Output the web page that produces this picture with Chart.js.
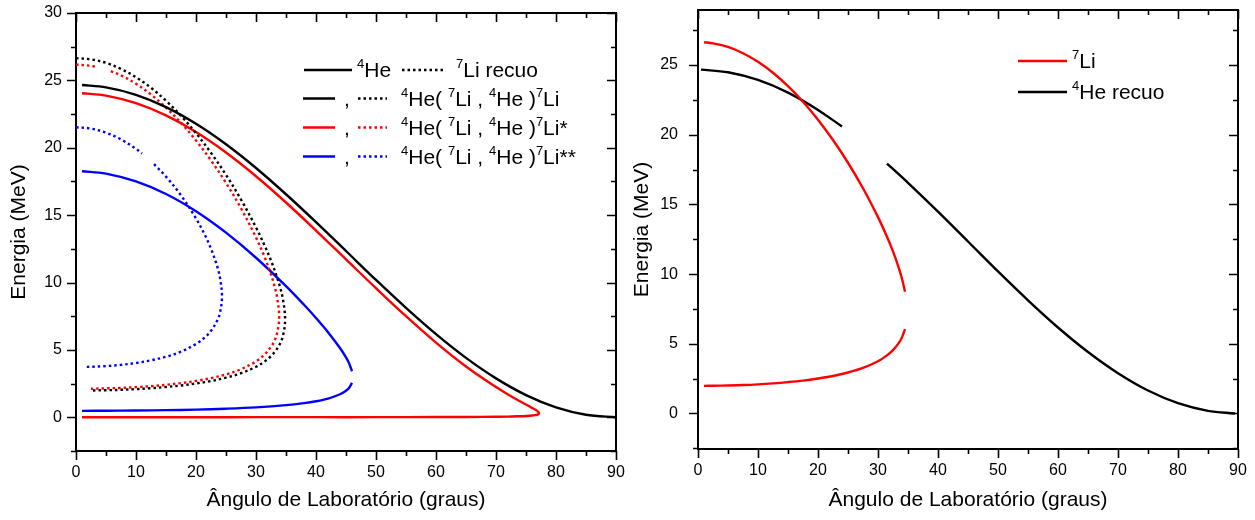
<!DOCTYPE html>
<html>
<head>
<meta charset="utf-8">
<script src="https://cdn.jsdelivr.net/npm/chart.js@4.4.1/dist/chart.umd.min.js"></script>
<style>
  body { margin: 0; background: #fff; }
  #quadro { position: relative; width: 1255px; height: 520px; }
  canvas { position: absolute; top: 0; }
</style>
</head>
<body>
<div id="quadro">
  <canvas id="esquerda" width="630" height="520" style="left:0px"></canvas>
  <canvas id="direita" width="625" height="520" style="left:630px"></canvas>
</div>
<script>
// eixos
const xMaiores = [0, 10, 20, 30, 40, 50, 60, 70, 80, 90];
const xMenores = [5, 15, 25, 35, 45, 55, 65, 75, 85];
const yMaiores = [0, 5, 10, 15, 20, 25, 30];
const yMenores = [-2.5, 2.5, 7.5, 12.5, 17.5, 22.5, 27.5];

// grafico da esquerda
// 4He espalhamento elastico (linha cheia preta)
const heAng = [1, 5, 10, 15, 20, 25, 30, 35, 40, 45, 50, 55, 60, 65, 70, 75, 80, 85, 90];
const heE = [24.66, 24.48, 23.93, 23.02, 21.78, 20.26, 18.50, 16.55, 14.48, 12.34, 10.19, 8.12, 6.17, 4.41, 2.89, 1.65, 0.74, 0.19, 0.00];
// 7Li recuo elastico (pontilhado preto)
const liAng = [0, 2.5, 5, 7.5, 10, 12.5, 15, 17.5, 20, 22.5, 25, 27.5, 30, 31.5, 32.5, 33.5, 34, 34.5, 34.85, 34.5, 34, 33.5, 32.5, 31.5, 30, 27.5, 25, 22.5, 20, 17.5, 15, 12.5, 10, 7.5, 5, 2.5];
const liE = [26.65, 26.56, 26.30, 25.85, 25.24, 24.45, 23.49, 22.37, 21.08, 19.62, 17.99, 16.16, 14.09, 12.68, 11.63, 10.40, 9.67, 8.74, 7.27, 6.05, 5.46, 5.08, 4.54, 4.17, 3.75, 3.27, 2.94, 2.69, 2.51, 2.36, 2.25, 2.16, 2.09, 2.04, 2.01, 1.99];
// 4He com 7Li* (linha cheia vermelha)
const heExcAng = [1, 5, 10, 15, 20, 25, 30, 35, 40, 45, 50, 55, 60, 65, 70, 72, 74, 75, 76, 76.5, 77, 77.17, 77, 76.5, 76, 75, 74, 72, 70, 65, 60, 50, 40, 30, 20, 10, 1];
const heExcE = [24.05, 23.87, 23.31, 22.40, 21.17, 19.65, 17.89, 15.94, 13.86, 11.72, 9.58, 7.50, 5.54, 3.77, 2.24, 1.69, 1.19, 0.95, 0.70, 0.58, 0.42, 0.30, 0.22, 0.16, 0.13, 0.10, 0.08, 0.05, 0.04, 0.02, 0.02, 0.01, 0.01, 0.01, 0.00, 0.00, 0.00];
// 7Li* (pontilhado vermelho)
const liExcAng = [0, 2.5, 3.4, 4.5, 5.8, 7.5, 10, 12.5, 15, 17.5, 20, 22.5, 25, 27.5, 30, 31.5, 32.5, 33, 33.5, 33.86, 33.5, 33, 32.5, 31.5, 30, 27.5, 25, 22.5, 20, 17.5, 15, 12.5, 10, 7.5, 5, 2.5];
const liExcE = [26.17, 26.08, 26.00, null, 25.69, 25.37, 24.75, 23.95, 22.98, 21.85, 20.54, 19.06, 17.39, 15.51, 13.34, 11.81, 10.60, 9.87, 8.94, 7.44, 6.20, 5.61, 5.23, 4.69, 4.15, 3.57, 3.18, 2.91, 2.70, 2.54, 2.41, 2.31, 2.24, 2.18, 2.15, 2.12];
// 4He com 7Li** (linha cheia azul)
const heExc2Ang = [1, 5, 10, 15, 20, 25, 30, 35, 38, 40, 42, 44, 45, 45.5, 46, 46, 46, 45.5, 45, 44, 42, 40, 38, 35, 30, 25, 20, 15, 10, 5, 1];
const heExc2E = [18.26, 18.08, 17.50, 16.57, 15.29, 13.70, 11.84, 9.73, 8.35, 7.37, 6.32, 5.14, 4.44, 4.02, 3.42, null, 2.56, 2.18, 1.97, 1.71, 1.39, 1.19, 1.05, 0.90, 0.74, 0.64, 0.57, 0.53, 0.50, 0.49, 0.48];
// 7Li** (pontilhado azul)
const liExc2Ang = [0, 2.5, 5, 7.5, 10, 11, 12, 13, 15, 17.5, 20, 21.5, 22.5, 23.5, 24, 24.33, 24, 23.5, 22.5, 21.5, 20, 17.5, 15, 12.5, 10, 7.5, 5, 2.5, 1.5];
const liExc2E = [21.52, 21.42, 21.12, 20.62, 19.92, 19.58, null, 18.79, 17.86, 16.47, 14.76, 13.51, 12.51, 11.25, 10.35, 8.96, 7.75, 7.14, 6.42, 5.94, 5.44, 4.87, 4.49, 4.23, 4.03, 3.89, 3.80, 3.75, 3.74];

// grafico da direita
const li7Ang = [1, 2.5, 5, 7.5, 10, 12.5, 15, 17.5, 20, 22.5, 25, 27.5, 30, 31.5, 32.5, 33.5, 34, 34.5, 34.5, 34.5, 34, 33.5, 32.5, 31.5, 30, 27.5, 25, 22.5, 20, 17.5, 15, 12.5, 10, 7.5, 5, 2.5, 1];
const li7E = [26.64, 26.56, 26.30, 25.85, 25.24, 24.45, 23.49, 22.37, 21.08, 19.62, 17.99, 16.16, 14.09, 12.68, 11.63, 10.40, 9.67, 8.74, null, 6.05, 5.46, 5.08, 4.54, 4.17, 3.75, 3.27, 2.94, 2.69, 2.51, 2.36, 2.25, 2.16, 2.09, 2.04, 2.01, 1.99, 1.98];
const heRecAng = [0.5, 5, 10, 15, 20, 24, 28, 31.5, 35, 40, 45, 50, 55, 60, 65, 70, 75, 80, 85, 89.5];
const heRecE = [24.67, 24.48, 23.93, 23.02, 21.78, 20.59, null, 17.93, 16.55, 14.48, 12.34, 10.19, 8.12, 6.17, 4.41, 2.89, 1.65, 0.74, 0.19, 0.00];

const FONTE = '"Liberation Sans", Arial, sans-serif';
Chart.defaults.font.family = FONTE;
Chart.defaults.color = '#000';

const pontos = (a, e) => a.map((v, i) => ({ x: v, y: e[i] }));

function serie(a, e, cor, pontilhado, suave) {
  return {
    data: pontos(a, e),
    borderColor: cor,
    borderWidth: 2.4,
    borderDash: pontilhado ? [2.5, 3] : [],
    pointRadius: 0,
    fill: false,
    tension: 0.35,
    cubicInterpolationMode: suave ? 'monotone' : 'default'
  };
}

// marcas dos eixos: fora em baixo/esquerda, dentro em cima/direita
const marcas = {
  id: 'marcas',
  afterDraw(chart) {
    const { ctx, chartArea: a, scales } = chart;
    ctx.save();
    ctx.strokeStyle = '#000';
    ctx.lineWidth = 1.6;
    ctx.setLineDash([]);
    ctx.beginPath();
    const vx = (lista, tam) => lista.forEach(v => {
      const p = Math.round(scales.x.getPixelForValue(v)) + 0.5;
      ctx.moveTo(p, a.bottom); ctx.lineTo(p, a.bottom + tam);
      ctx.moveTo(p, a.top); ctx.lineTo(p, a.top + tam);
    });
    const vy = (lista, tam) => lista.forEach(v => {
      if (v < scales.y.min || v > scales.y.max) return;
      const p = Math.round(scales.y.getPixelForValue(v)) + 0.5;
      ctx.moveTo(a.left, p); ctx.lineTo(a.left - tam, p);
      ctx.moveTo(a.right, p); ctx.lineTo(a.right - tam, p);
    });
    vx(xMaiores, 9); vx(xMenores, 5);
    vy(yMaiores, 9); vy(yMenores, 5);
    ctx.stroke();
    ctx.restore();
  }
};

function escreve(ctx, partes, x, y, tam) {
  partes.forEach(p => {
    const sup = p[0] === '^';
    const t = sup ? p.slice(1) : p;
    ctx.font = (sup ? Math.round(tam * 0.6) : tam) + 'px ' + FONTE;
    ctx.fillText(t, x, sup ? y - tam * 0.42 : y);
    x += ctx.measureText(t).width;
  });
}

function traco(ctx, x1, x2, y, cor, pontilhado) {
  ctx.beginPath();
  ctx.strokeStyle = cor;
  ctx.lineWidth = 2.5;
  ctx.setLineDash(pontilhado ? [2.5, 3] : []);
  ctx.moveTo(x1, y);
  ctx.lineTo(x2, y);
  ctx.stroke();
}

// tamanho fixo de cada eixo, sem folga extra dos rotulos
function fixa(prop, valor) {
  return s => {
    s[prop] = valor;
    s.paddingLeft = 0; s.paddingRight = 0; s.paddingTop = 0; s.paddingBottom = 0;
  };
}

function eixos(yMin, yMax, larg) {
  const borda = { display: true, color: '#000', width: 2 };
  return {
    x: {
      type: 'linear', position: 'bottom', min: 0, max: 90,
      afterBuildTicks: s => { s.ticks = xMaiores.map(v => ({ value: v })); },
      afterFit: fixa('height', larg.baixo),
      grid: { display: false, drawTicks: false },
      border: borda,
      ticks: { font: { size: 16 }, padding: 12, maxRotation: 0 },
      title: { display: true, text: 'Ângulo de Laboratório (graus)', font: { size: 21 }, padding: { top: 0, bottom: 7 } }
    },
    x2: {
      type: 'linear', position: 'top', min: 0, max: 90,
      afterFit: fixa('height', larg.topo),
      grid: { display: false, drawTicks: false },
      border: borda,
      ticks: { display: false }
    },
    y: {
      type: 'linear', position: 'left', min: yMin, max: yMax,
      afterBuildTicks: s => { s.ticks = yMaiores.filter(v => v <= yMax).map(v => ({ value: v })); },
      afterFit: fixa('width', larg.esq),
      grid: { display: false, drawTicks: false },
      border: borda,
      ticks: { font: { size: 16 }, padding: larg.pad },
      title: { display: true, text: 'Energia (MeV)', font: { size: 21 }, padding: { top: larg.tit, bottom: 0 } }
    },
    y2: {
      type: 'linear', position: 'right', min: yMin, max: yMax,
      afterFit: fixa('width', larg.dir),
      grid: { display: false, drawTicks: false },
      border: borda,
      ticks: { display: false }
    }
  };
}

function grafico(id, series, escalas, legenda) {
  return new Chart(document.getElementById(id), {
    type: 'line',
    data: { datasets: series },
    options: {
      responsive: false,
      animation: false,
      devicePixelRatio: 1,
      layout: { padding: 0 },
      plugins: { legend: { display: false }, tooltip: { enabled: false } },
      scales: escalas
    },
    plugins: [marcas, { id: 'legenda', afterDraw: c => legenda(c.ctx) }]
  });
}

grafico('esquerda', [
  serie(heAng, heE, '#000', false, true),
  serie(liAng, liE, '#000', true, false),
  serie(heExcAng, heExcE, '#ff0000', false, false),
  serie(liExcAng, liExcE, '#ff0000', true, false),
  serie(heExc2Ang, heExc2E, '#0000ff', false, false),
  serie(liExc2Ang, liExc2E, '#0000ff', true, false)
], eixos(-2.5, 30, { baixo: 69, topo: 13, esq: 76, dir: 14, pad: 14, tit: 7 }), ctx => {
  ctx.save();
  ctx.fillStyle = '#000';
  ctx.textBaseline = 'alphabetic';
  traco(ctx, 304, 352, 70, '#000', false);
  escreve(ctx, ['^4', 'He'], 357, 77, 21);
  traco(ctx, 402, 444, 70, '#000', true);
  escreve(ctx, ['^7', 'Li recuo'], 456, 77, 21);
  const linhas = [['#000', ''], ['#ff0000', '*'], ['#0000ff', '**']];
  linhas.forEach((l, i) => {
    const y = 98.5 + i * 29;
    traco(ctx, 303, 335, y, l[0], false);
    escreve(ctx, [','], 344, y + 7, 21);
    traco(ctx, 358, 387, y, l[0], true);
    escreve(ctx, ['^4', 'He( ', '^7', 'Li , ', '^4', 'He )', '^7', 'Li' + l[1]], 401, y + 7, 21);
  });
  ctx.restore();
});

grafico('direita', [
  serie(li7Ang, li7E, '#ff0000', false, false),
  serie(heRecAng, heRecE, '#000', false, true)
], eixos(-2.55, 28.95, { baixo: 71, topo: 10, esq: 68, dir: 17, pad: 20, tit: 0 }), ctx => {
  ctx.save();
  ctx.fillStyle = '#000';
  traco(ctx, 388, 437, 61, '#ff0000', false);
  escreve(ctx, ['^7', 'Li'], 442, 68, 21);
  traco(ctx, 388, 437, 92, '#000', false);
  escreve(ctx, ['^4', 'He recuo'], 442, 99, 21);
  ctx.restore();
});
</script>
</body>
</html>
